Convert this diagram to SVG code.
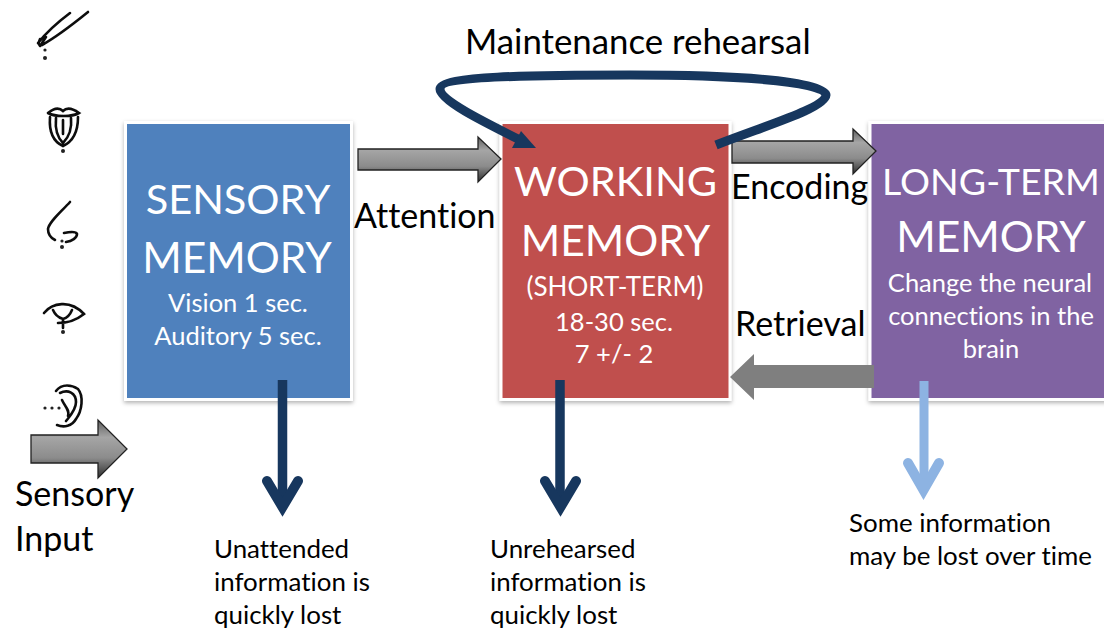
<svg xmlns="http://www.w3.org/2000/svg" width="1104" height="630" viewBox="0 0 1104 630">
<style>
text{font-family:Lato,"Noto Sans",sans-serif;font-variant-ligatures:none}
.t{fill:#000;font-size:34px}
.s{fill:#000;font-size:25.9px}
.h{fill:#fff;font-size:41.5px;text-anchor:middle}
.b{fill:#fff;font-size:25.5px;text-anchor:middle}
.box{stroke:#fff;stroke-width:3;filter:url(#sh)}
.g{stroke:#222;stroke-width:1.3;fill:url(#gr)}
.ic{fill:none;stroke:#111;stroke-width:2.6;stroke-linecap:round}
.dot{fill:#222}
.nav{fill:none;stroke:#17375e;stroke-width:9}
.chev{fill:none;stroke-width:10;stroke-linecap:round;stroke-linejoin:miter;stroke-miterlimit:6}
</style>
<defs>
<linearGradient id="gr" x1="0" y1="0" x2="0" y2="1"><stop offset="0" stop-color="#5e5e5e"/><stop offset=".3" stop-color="#a5a5a5"/><stop offset=".65" stop-color="#8c8c8c"/><stop offset="1" stop-color="#2e2e2e"/></linearGradient>
<filter id="sh" x="-5%" y="-5%" width="110%" height="110%"><feDropShadow dx="0" dy="2" stdDeviation="2" flood-color="#000" flood-opacity=".3"/></filter>
<filter id="soft" x="-10%" y="-10%" width="120%" height="120%"><feGaussianBlur stdDeviation=".55"/></filter>
</defs>
<g id="icons" filter="url(#soft)">
<g id="icon-touch"><path class="ic" d="M70 13C58 22 46 33 38 43M88 12C72 25 58 36 42 45C38 46 38 43 40 39M40 46L46 37"/><circle class="dot" cx="45" cy="50" r="1.6"/><circle class="dot" cx="45" cy="58" r="2"/></g>
<g id="icon-taste"><path class="ic" d="M48 113C54 108 59 107 63 111C67 107 72 108 79 113C72 117 55 117 48 113M50 117C49 130 52 141 63 146C74 141 78 130 78 117M56 118C55 128 57 137 63 143C69 137 72 128 71 118M63 120V134"/><circle class="dot" cx="63" cy="151" r="2"/></g>
<g id="icon-smell"><path class="ic" d="M70 202C60 213 49 222 48 229C48 234 51 238 55 240M64 233C69 232 76 231 77 234C77 238 72 241 66 242"/><circle class="dot" cx="62" cy="241" r="1.6"/><circle class="dot" cx="62" cy="247" r="2"/></g>
<g id="icon-sight"><path class="ic" d="M44 313C52 303 70 299 84 314C74 322 66 323 58 323M53 310C56 317 60 318 63 319C67 318 70 315 72 310M63 319V328"/><circle class="dot" cx="63" cy="332" r="2"/></g>
<g id="icon-hearing"><path class="ic" d="M56 391C62 383 72 385 78 389C84 396 82 411 76 419C72 426 64 428 57 425M60 393C68 389 76 393 76 402C76 410 70 416 66 421M62 400C65 407 70 410 68 416"/><circle class="dot" cx="45" cy="408" r="1.6"/><circle class="dot" cx="52" cy="408" r="1.6"/><circle class="dot" cx="59" cy="408" r="1.6"/></g>
</g>
<g id="sensory-memory">
<rect class="box" x="125.500" y="122.500" width="226" height="277" fill="#4f81bd"/>
<text class="h" x="238" y="214">SENSORY</text><text class="h" style="font-size:42.5px" x="237" y="273">MEMORY</text>
<text class="b" x="238" y="312">Vision 1 sec.</text><text class="b" x="238" y="345">Auditory 5 sec.</text>
</g>
<g id="working-memory">
<rect class="box" x="501" y="122.500" width="229" height="277" fill="#c0504d"/>
<text class="h" x="615.500" y="196">WORKING</text><text class="h" style="font-size:42.5px" x="615.500" y="256">MEMORY</text>
<text class="b" style="font-size:26px" x="615" y="296">(SHORT-TERM)</text><text class="b" x="614" y="331">18-30 sec.</text><text class="b" x="614" y="363">7 +/- 2</text>
</g>
<g id="long-term-memory">
<rect class="box" x="870" y="122.500" width="240" height="277" fill="#8064a2"/>
<text class="h" style="font-size:37.5px" x="991" y="195">LONG-TERM</text><text class="h" style="font-size:42.5px" x="991" y="252">MEMORY</text>
<text class="b" x="990" y="292">Change the neural</text><text class="b" x="991" y="325">connections in the</text><text class="b" x="991" y="358">brain</text>
</g>
<g id="connectors">
<path class="g" d="M31 435H98V420L127 449L98 478V463H31Z"/>
<path class="g" d="M358 149H478V137L501 159L478 182V170H358Z"/>
<path class="g" d="M732 141H853V129L876 151L853 174V163H732Z"/>
<path fill="#7f7f7f" d="M874 365V388H754V400L730 377L754 354V365Z"/>
<path class="nav" d="M716 145C770 124 825 108 826 95C826 80 720 75 630 75C530 75 440 76 440 89C440 100 480 120 520 140"/>
<path fill="#17375e" d="M536 148L512 148L521 131Z"/>
<path class="nav" style="stroke-width:9.5" d="M282.500 380V505"/>
<path class="chev" stroke="#17375e" d="M267 481L282.500 507L298 481"/>
<path class="nav" style="stroke-width:9.5" d="M560 380V505"/>
<path class="chev" stroke="#17375e" d="M545 481L560.500 507L576 481"/>
<path fill="none" stroke="#8db3e2" stroke-width="9" d="M924 381V488"/>
<path class="chev" stroke="#8db3e2" d="M908 463L923.500 490L939 463"/>
</g>
<g id="labels">
<text class="t" style="font-size:34.8px" x="465" y="54">Maintenance rehearsal</text>
<text class="t" x="354" y="228">Attention</text>
<text class="t" x="731" y="199">Encoding</text>
<text class="t" x="735" y="336">Retrieval</text>
<text class="t" x="15" y="506">Sensory</text>
<text class="t" x="15" y="551">Input</text>
<text class="s" x="214" y="558">Unattended</text><text class="s" x="214" y="591">information is</text><text class="s" x="214" y="624">quickly lost</text>
<text class="s" x="490" y="558">Unrehearsed</text><text class="s" x="490" y="591">information is</text><text class="s" x="490" y="624">quickly lost</text>
<text class="s" x="849" y="532">Some information</text><text class="s" x="849" y="565">may be lost over time</text>
</g>
</svg>
